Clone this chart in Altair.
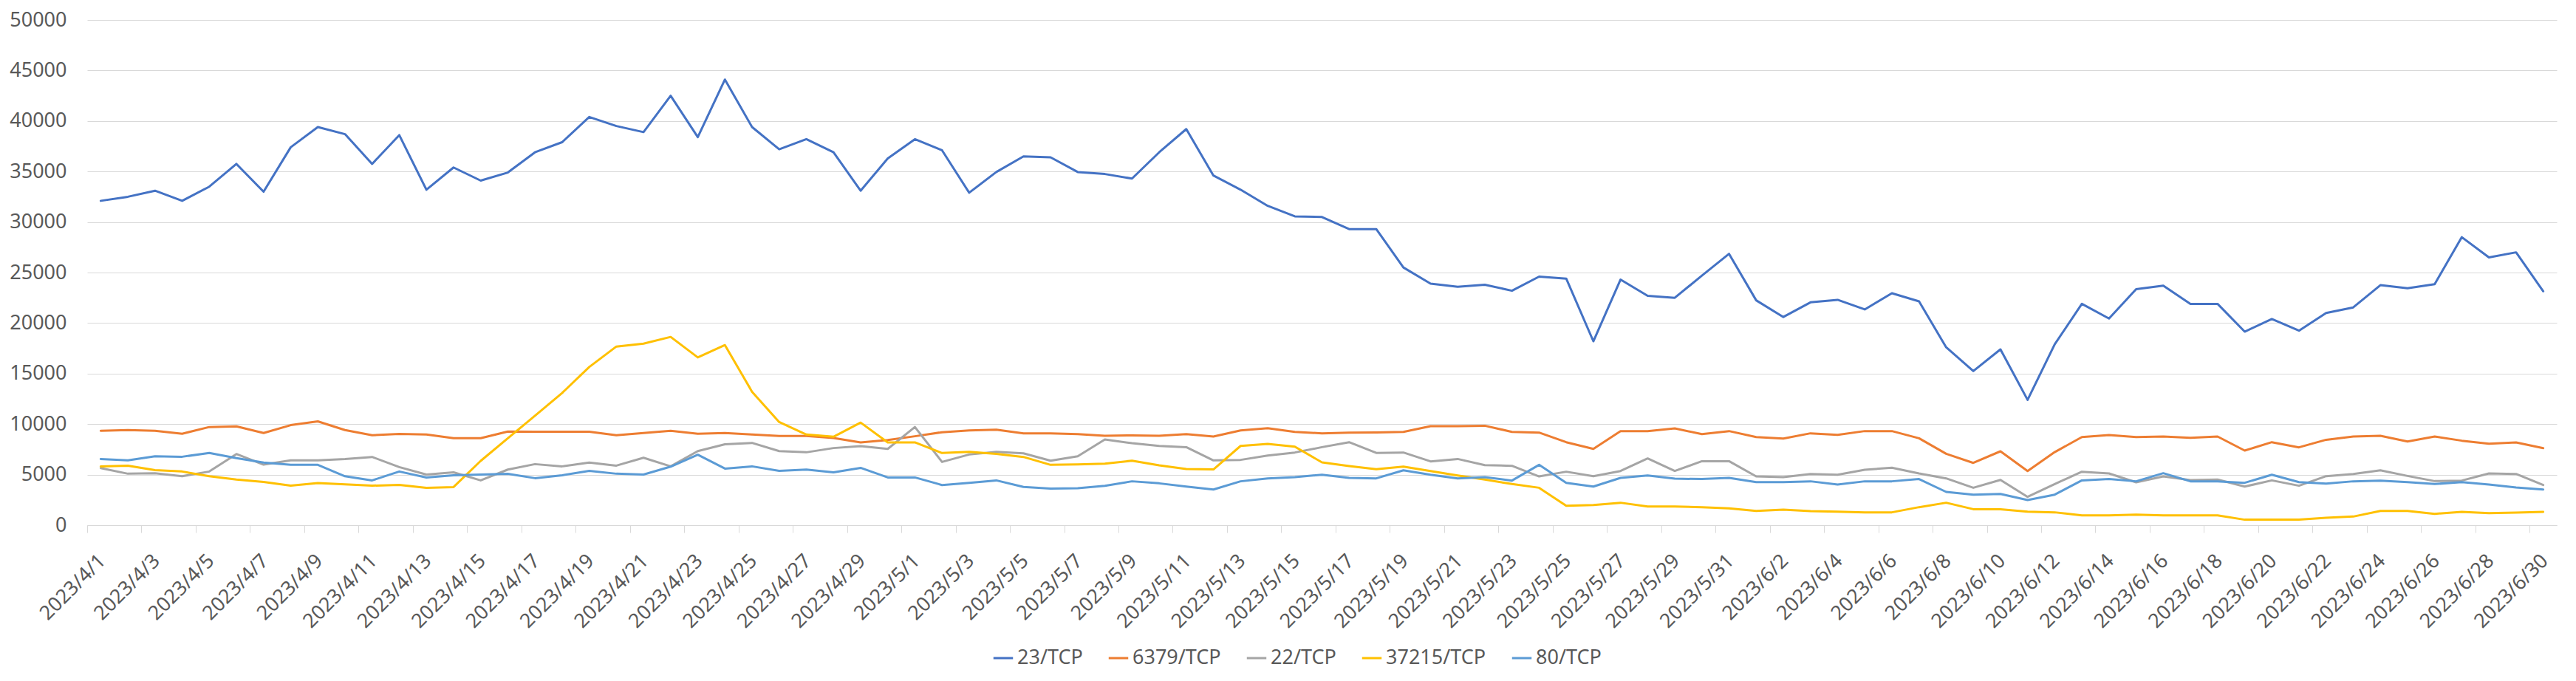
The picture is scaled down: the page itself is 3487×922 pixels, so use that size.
import altair as alt
import pandas as pd

# Categories: every day from 2023/4/1 to 2023/6/30
dates = [f"{d.year}/{d.month}/{d.day}" for d in pd.date_range("2023-04-01", "2023-06-30")]
label_dates = dates[::2]

series = ["23/TCP", "6379/TCP", "22/TCP", "37215/TCP", "80/TCP"]
colors = ["#4472C4", "#ED7D31", "#A5A5A5", "#FFC000", "#5B9BD5"]

p23 = [32100, 32500, 33100, 32100, 33500, 35750, 33000, 37400, 39400, 38700, 35750, 38600,
       33200, 35400, 34100, 34900, 36900, 37900, 40400, 39500, 38900, 42500, 38400, 44100,
       39400, 37200, 38200, 36900, 33100, 36300, 38200, 37100, 32900, 34950, 36500, 36400,
       34950, 34750, 34300, 36900, 39200, 34600, 33200, 31600, 30560, 30500, 29300, 29300,
       25500, 23900, 23600, 23800, 23200, 24600, 24400, 18200, 24300, 22700, 22500, 24700,
       26850, 22250, 20600, 22050, 22300, 21350, 22950, 22150, 17600, 15250, 17400, 12400,
       17900, 21900, 20450, 23350, 23700, 21900, 21900, 19150, 20400, 19250, 21000, 21550,
       23750, 23450, 23850, 28500, 26500, 27000, 23150]

p6379 = [9340, 9410, 9340, 9050, 9710, 9780, 9120, 9900, 10270, 9410, 8900, 9020, 8970, 8610, 8610,
         9270, 9240, 9240, 9240, 8900, 9120, 9340, 9050, 9120, 8970, 8830, 8830, 8630, 8190, 8430, 8800,
         9200, 9380, 9450, 9090, 9090, 9010, 8840, 8890, 8840, 9010, 8770, 9380, 9600, 9230, 9090, 9160,
         9170, 9230, 9790, 9790, 9840, 9230, 9160, 8210, 7550, 9310, 9310, 9570, 9010, 9310, 8720, 8570,
         9090, 8940, 9310, 9310, 8600, 7060, 6160, 7310, 5360, 7230, 8720, 8920, 8720, 8770, 8650, 8770,
         7380, 8210, 7700, 8450, 8770, 8840, 8280, 8770, 8360, 8060, 8190, 7620]

p22 = [5650, 5090, 5130, 4840, 5310, 7040, 5990, 6410, 6410, 6550, 6750, 5750, 5010, 5230, 4430,
       5500, 6040, 5820, 6190, 5890, 6670, 5820, 7330, 8000, 8140, 7330, 7210, 7630, 7820, 7550, 9710,
       6260, 6990, 7260, 7110, 6380, 6820, 8480, 8110, 7840, 7720, 6410, 6460, 6890, 7190, 7720, 8210,
       7150, 7190, 6310, 6550, 5940, 5870, 4820, 5290, 4850, 5360, 6600, 5360, 6330, 6330, 4820, 4750,
       5070, 4990, 5480, 5680, 5120, 4630, 3700, 4480, 2800, 4070, 5290, 5120, 4240, 4820, 4460, 4510,
       3820, 4430, 3900, 4850, 5070, 5430, 4870, 4360, 4410, 5120, 5070, 3970]

p37215 = [5820, 5890, 5450, 5310, 4840, 4520, 4280, 3910, 4160, 4030, 3910, 3990, 3690, 3770, 6360,
          8600, 10830, 13080, 15650, 17680, 17970, 18630, 16600, 17820, 13200, 10200, 8970, 8750, 10150, 8190, 8190,
          7140, 7260, 7060, 6750, 5970, 6020, 6090, 6380, 5920, 5550, 5510, 7840, 8040, 7770, 6210, 5850,
          5530, 5800, 5360, 4920, 4510, 4070, 3700, 1920, 2000, 2220, 1850, 1850, 1780, 1660, 1410, 1530,
          1390, 1340, 1270, 1270, 1780, 2220, 1580, 1580, 1340, 1270, 970, 970, 1050, 970, 970, 970,
          540, 540, 540, 730, 850, 1410, 1410, 1120, 1320, 1190, 1240, 1320]

p80 = [6550, 6410, 6820, 6770, 7140, 6630, 6190, 5970, 5970, 4840, 4430, 5310, 4720, 4940, 5010,
       5080, 4650, 4940, 5380, 5090, 5010, 5790, 6970, 5600, 5820, 5380, 5500, 5230, 5670, 4720, 4720,
       3970, 4190, 4430, 3780, 3610, 3650, 3900, 4340, 4140, 3820, 3530, 4340, 4630, 4750, 4990, 4680,
       4630, 5430, 4990, 4630, 4750, 4410, 5970, 4190, 3820, 4680, 4920, 4600, 4560, 4680, 4260, 4260,
       4340, 4020, 4340, 4340, 4560, 3290, 3020, 3090, 2480, 3020, 4430, 4560, 4340, 5140, 4340, 4340,
       4190, 4990, 4260, 4120, 4340, 4410, 4260, 4070, 4260, 4020, 3730, 3530]

y_ticks = list(range(0, 50001, 5000))

rows = []
for name, vals in zip(series, [p23, p6379, p22, p37215, p80]):
    for d, v in zip(dates, vals):
        rows.append({"date": d, "port": name, "count": v})
df = pd.DataFrame(rows)

W = 3343
H = 684
step = W / len(dates)
FONT = "Noto Sans"
TXT = "#595959"
GRID = "#D9D9D9"

chart = alt.Chart(df).mark_line(strokeWidth=3, strokeJoin="round", strokeCap="round").encode(
    x=alt.X(
        "date:N",
        sort=dates,
        scale=alt.Scale(type="point", padding=0.5),
        axis=alt.Axis(
            values=label_dates,
            title=None,
            labelAngle=-45,
            labelAlign="right",
            labelBaseline="middle",
            labelFont=FONT,
            labelFontSize=27,
            labelColor=TXT,
            tickOffset=-step / 2,
            labelOffset=step / 2 + 2,
            tickSize=10,
            tickColor=GRID,
            tickWidth=1,
            domainColor=GRID,
            domainWidth=1,
            labelPadding=34,
            grid=False,
            labelOverlap=False,
        ),
    ),
    y=alt.Y(
        "count:Q",
        scale=alt.Scale(domain=[0, 50000], nice=False),
        axis=alt.Axis(
            values=y_ticks,
            format="d",
            title=None,
            ticks=False,
            domain=False,
            labelFont=FONT,
            labelFontSize=27,
            labelColor=TXT,
            labelPadding=28,
            gridColor=GRID,
            gridWidth=1,
        ),
    ),
    color=alt.Color(
        "port:N",
        sort=series,
        scale=alt.Scale(domain=series, range=colors),
        legend=alt.Legend(
            title=None,
            orient="none",
            legendX=1225,
            legendY=849,
            direction="horizontal",
            symbolType="stroke",
            symbolStrokeWidth=3,
            symbolSize=700,
            labelFont=FONT,
            labelFontSize=27,
            labelColor=TXT,
            columnPadding=28,
            labelOffset=4,
        ),
    ),
).properties(
    width=W,
    height=H,
    padding={"left": 4, "top": 5, "right": 5, "bottom": 2},
    background="white",
).configure_view(stroke=None)

chart.save("out.html", embed_options={"renderer": "svg", "actions": False})
